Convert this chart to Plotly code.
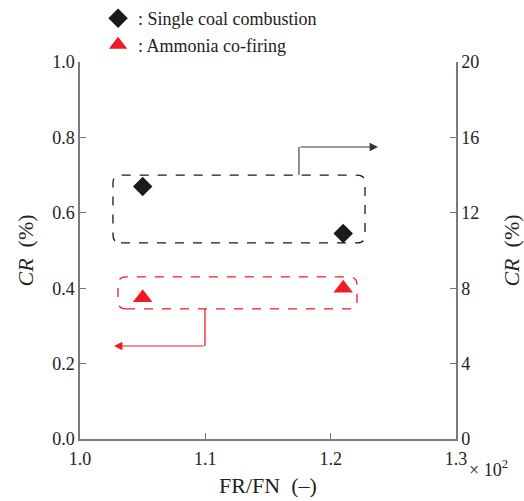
import plotly.graph_objects as go

# Data
fr_fn = [1.05, 1.21]
cr_single = [13.4, 10.9]      # right axis (0-20)
cr_ammonia = [0.375, 0.40]    # left axis (0-1)
x_ticks = [1.0, 1.1, 1.2, 1.3]
x_ticklabels = ["1.0", "1.1", "1.2", "1.3"]
yl_ticks = [0.0, 0.2, 0.4, 0.6, 0.8, 1.0]
yl_ticklabels = ["0.0", "0.2", "0.4", "0.6", "0.8", "1.0"]
yr_ticks = [0, 4, 8, 12, 16, 20]
yr_ticklabels = ["0", "4", "8", "12", "16", "20"]

FONT = "Liberation Serif"
AX = "#7a7a7a"
RED = "#ee1c25"

fig = go.Figure()
fig.add_trace(go.Scatter(x=fr_fn, y=cr_single, mode="markers", yaxis="y2",
                         name=": Single coal combustion",
                         marker=dict(symbol="diamond", size=15, color="#1a1a1a")))
fig.add_trace(go.Scatter(x=fr_fn, y=cr_ammonia, mode="markers", yaxis="y",
                         name=": Ammonia co-firing",
                         marker=dict(symbol="triangle-up", size=17, color=RED)))

def rounded_rect(x0, x1, y0, y1, rx, ry):
    return (f"M {x0+rx},{y0} L {x1-rx},{y0} Q {x1},{y0} {x1},{y0+ry} "
            f"L {x1},{y1-ry} Q {x1},{y1} {x1-rx},{y1} L {x0+rx},{y1} "
            f"Q {x0},{y1} {x0},{y1-ry} L {x0},{y0+ry} Q {x0},{y0} {x0+rx},{y0} Z")

rx, ry = 0.0064, 0.021
shapes = [
    dict(type="path", xref="x", yref="y",
         path=rounded_rect(1.0263, 1.2274, 0.520, 0.700, rx, ry),
         line=dict(color="#1a1a1a", width=1.3, dash="dash")),
    dict(type="path", xref="x", yref="y",
         path=rounded_rect(1.0303, 1.2210, 0.345, 0.430, rx, ry),
         line=dict(color=RED, width=1.3, dash="dash")),
    dict(type="line", xref="x", yref="y", x0=1.1747, x1=1.1747, y0=0.700, y1=0.7745,
         line=dict(color="#555555", width=1.3)),
    dict(type="line", xref="x", yref="y", x0=1.0997, x1=1.0997, y0=0.345, y1=0.2467,
         line=dict(color=RED, width=1.3)),
]

annotations = [
    dict(x=1.2378, y=0.7745, ax=1.1747, ay=0.7745, xref="x", yref="y",
         axref="x", ayref="y", showarrow=True, arrowhead=2, arrowsize=1.4,
         arrowwidth=1.2, arrowcolor="#333333", text=""),
    dict(x=1.0271, y=0.2467, ax=1.0997, ay=0.2467, xref="x", yref="y",
         axref="x", ayref="y", showarrow=True, arrowhead=2, arrowsize=1.4,
         arrowwidth=1.2, arrowcolor=RED, text=""),
    dict(x=1.029, y=-0.077, xref="paper", yref="paper", xanchor="left", yanchor="middle",
         text="× 10<sup>2</sup>", showarrow=False, font=dict(family=FONT, size=18, color="#222")),
]

fig.update_layout(
    width=524, height=501,
    margin=dict(l=80, r=68, t=62, b=62, autoexpand=False),
    paper_bgcolor="white", plot_bgcolor="white",
    font=dict(family=FONT, size=18, color="#222"),
    showlegend=True,
    legend=dict(x=0.048, y=1.164, xanchor="left", yanchor="top",
                bgcolor="rgba(0,0,0,0)", font=dict(family=FONT, size=18, color="#222"),
                itemwidth=30, tracegroupgap=0),
    xaxis=dict(range=[1.0, 1.3], tickvals=x_ticks, ticktext=x_ticklabels,
               ticks="inside", ticklen=6, tickcolor=AX, showline=True, linecolor=AX,
               linewidth=1.5, showgrid=False, zeroline=False, ticklabelstandoff=3,
               title=dict(text="FR/FN  (–)", standoff=9)),
    yaxis=dict(range=[0, 1.0], tickvals=yl_ticks, ticktext=yl_ticklabels,
               ticks="inside", ticklen=6, tickcolor=AX, showline=True, linecolor=AX,
               linewidth=1.5, showgrid=False, zeroline=False,
               title=dict(text="<i>CR</i>  (%)", standoff=12)),
    yaxis2=dict(range=[0, 20], tickvals=yr_ticks, ticktext=yr_ticklabels,
                overlaying="y", side="right",
                ticks="inside", ticklen=6, tickcolor=AX, showline=True, linecolor=AX,
                linewidth=1.5, showgrid=False, zeroline=False,
                title=dict(text="<i>CR</i>  (%)", standoff=27)),
    shapes=shapes,
    annotations=annotations,
)

fig.write_html("out.html", config={"displayModeBar": False},
               post_script="document.body.style.margin='0';")
